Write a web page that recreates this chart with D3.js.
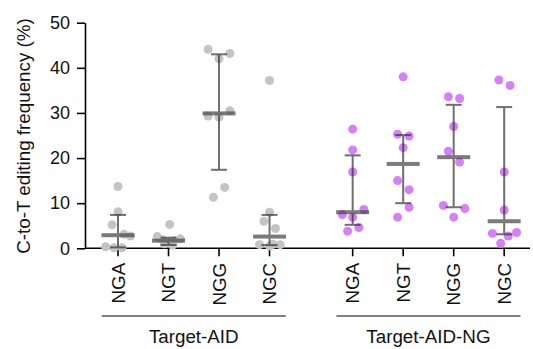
<!DOCTYPE html>
<html>
<head>
<meta charset="utf-8">
<script src="https://cdn.jsdelivr.net/npm/d3@7"></script>
<style>
  html, body { margin: 0; padding: 0; background: #fff; }
  svg { display: block; font-family: "Liberation Sans", Arial, sans-serif; }
</style>
</head>
<body>
<svg id="chart" width="533" height="349"></svg>
<script>
// ---------------- data ----------------
const groups = ["Target-AID", "Target-AID-NG"];
const categories = ["NGA", "NGT", "NGG", "NGC"];
const yTicks = [0, 10, 20, 30, 40, 50];
const yLabel = "C-to-T editing frequency (%)";

// individual replicate values, per group, per category
const aidValues = [
  [13.7, 8.1, 5.2, 3.1, 2.7, 0.35, 0.1, 0.1],
  [5.3, 2.6, 2.1, 1.9, 1.7, 1.3, 1.0, 0.7],
  [44.1, 43.2, 42.0, 30.5, 29.3, 29.1, 13.5, 11.3],
  [37.2, 8.0, 6.0, 4.4, 0.9, 0.8, 0.5, 0.8]
];
const ngValues = [
  [26.4, 21.8, 16.9, 8.6, 7.5, 6.9, 4.6, 3.8],
  [38.0, 25.3, 24.9, 22.3, 15.0, 13.0, 9.1, 6.9],
  [33.6, 33.2, 27.0, 21.5, 19.1, 9.5, 8.8, 6.9],
  [37.3, 36.1, 16.9, 8.5, 3.5, 3.3, 2.7, 1.1]
];
// scatter column (jitter slot) of each replicate, as in the reference
const aidSlots = [
  [0, 0, -1, 1, 2.1, -2.1, -0.7, 0.7],
  [0.2, -1.9, 2, -1, 1, 0, -0.7, 0.7],
  [-1.85, 1.85, 0, 1.85, -1.85, 0, 0.95, -0.95],
  [0, 0, -0.95, 1, 0.6, -1.7, 0, 1.8]
];
const ngSlots = [
  [0, 0, 0, 1.9, -1.75, 0, 1.05, -0.85],
  [0, -0.95, 1, 0, -0.95, 1, 1, -0.95],
  [-0.9, 1, 0, -0.9, 1, -1.75, 1.9, 0],
  [-0.9, 1, 0, 0, 2.1, -2, 0.7, -0.6]
];
// median with interquartile range
const aidMedian = [2.9, 1.7, 29.9, 2.6];
const aidQ1 = [0.2, 0.75, 17.4, 0.7];
const aidQ3 = [7.4, 2.35, 43.0, 7.4];
const ngMedian = [8.0, 18.7, 20.2, 6.0];
const ngQ1 = [5.2, 10.0, 9.1, 3.1];
const ngQ3 = [20.6, 25.1, 31.8, 31.3];

const groupColors = ["#c4c4c4", "#d67ff6"];

// ---------------- build table ----------------
const groupData = [
  { name: groups[0], values: aidValues, slots: aidSlots, median: aidMedian, q1: aidQ1, q3: aidQ3, color: groupColors[0] },
  { name: groups[1], values: ngValues, slots: ngSlots, median: ngMedian, q1: ngQ1, q3: ngQ3, color: groupColors[1] }
];

// ---------------- layout ----------------
const svg = d3.select("#chart");
const plotLeft = 85, plotRight = 530, plotTop = 22.7, plotBottom = 248.3;

const y = d3.scaleLinear().domain([0, 50]).range([plotBottom, plotTop]);
const xGroup = d3.scaleBand().domain(groups).range([92.75, 529.45]).paddingInner(0.139).paddingOuter(0);
const xCat = d3.scaleBand().domain(categories).range([0, xGroup.bandwidth()]);
const slot = d3.scaleLinear().domain([-1, 1]).range([-5.9, 5.9]);
const cx = (g, c) => xGroup(g) + xCat(c) + xCat.bandwidth() / 2;

const fontSize = 18.8;
const tickFont = 18;
const textColor = "#111";

// Y axis
const yAxis = svg.append("g")
  .attr("transform", `translate(${plotLeft},0)`)
  .call(d3.axisLeft(y).tickValues(yTicks).tickSize(8).tickPadding(7).tickSizeOuter(0));
yAxis.select(".domain").attr("stroke", "#000").attr("stroke-width", 1.6);
yAxis.selectAll(".tick line").attr("stroke", "#000").attr("stroke-width", 1.6);
yAxis.selectAll(".tick text").attr("font-size", tickFont).attr("fill", textColor)
  .attr("font-family", "'Liberation Sans', Arial, sans-serif");

// Y title
svg.append("text")
  .attr("transform", `translate(23,${(plotTop + plotBottom) / 2 + 0.5}) rotate(-90)`)
  .attr("text-anchor", "middle")
  .attr("dy", "0.35em")
  .attr("font-size", fontSize)
  .attr("fill", textColor)
  .text(yLabel);

// X axis line
svg.append("line")
  .attr("x1", plotLeft).attr("x2", plotRight)
  .attr("y1", plotBottom).attr("y2", plotBottom)
  .attr("stroke", "#000").attr("stroke-width", 1.6);

// X axes per group (ticks + rotated labels)
groupData.forEach(g => {
  const ax = svg.append("g")
    .attr("transform", `translate(${xGroup(g.name)},${plotBottom})`)
    .call(d3.axisBottom(xCat).tickSize(8).tickPadding(0).tickSizeOuter(0));
  ax.select(".domain").remove();
  ax.selectAll(".tick line").attr("stroke", "#000").attr("stroke-width", 1.6);
  ax.selectAll(".tick text")
    .attr("font-size", fontSize).attr("fill", textColor)
    .attr("font-family", "'Liberation Sans', Arial, sans-serif")
    .attr("text-anchor", "end")
    .attr("transform", "translate(0,14.5) rotate(-90)")
    .attr("x", 0).attr("y", 0).attr("dy", "0.36em");

  // group underline
  const x0 = xGroup(g.name) + 9, x1 = xGroup(g.name) + xGroup.bandwidth() - 9;
  svg.append("line")
    .attr("x1", x0).attr("x2", x1).attr("y1", 316).attr("y2", 316)
    .attr("stroke", "#555").attr("stroke-width", 1.5);
  svg.append("text")
    .attr("x", (x0 + x1) / 2).attr("y", 343)
    .attr("text-anchor", "middle")
    .attr("font-size", fontSize).attr("fill", textColor)
    .text(g.name);
});

// points
groupData.forEach(g => {
  categories.forEach((c, ci) => {
    const pts = g.values[ci].map((v, i) => ({ v, s: g.slots[ci][i] }));
    svg.append("g").selectAll("circle").data(pts).join("circle")
      .attr("cx", d => cx(g.name, c) + slot(d.s))
      .attr("cy", d => y(d.v))
      .attr("r", 4.5)
      .attr("fill", g.color);
  });
});

// median + IQR
groupData.forEach(g => {
  categories.forEach((c, ci) => {
    const x = cx(g.name, c);
    const gg = svg.append("g").attr("opacity", 0.7);
    gg.append("line")
      .attr("x1", x).attr("x2", x)
      .attr("y1", y(g.q1[ci])).attr("y2", y(g.q3[ci]))
      .attr("stroke", "#333").attr("stroke-width", 2);
    [g.q1[ci], g.q3[ci]].forEach(q => {
      gg.append("line")
        .attr("x1", x - 8).attr("x2", x + 8)
        .attr("y1", y(q)).attr("y2", y(q))
        .attr("stroke", "#333").attr("stroke-width", 2);
    });
    gg.append("rect")
      .attr("x", x - 16.5).attr("width", 33)
      .attr("y", y(g.median[ci]) - 2).attr("height", 4)
      .attr("fill", "#444");
  });
});
</script>
</body>
</html>
